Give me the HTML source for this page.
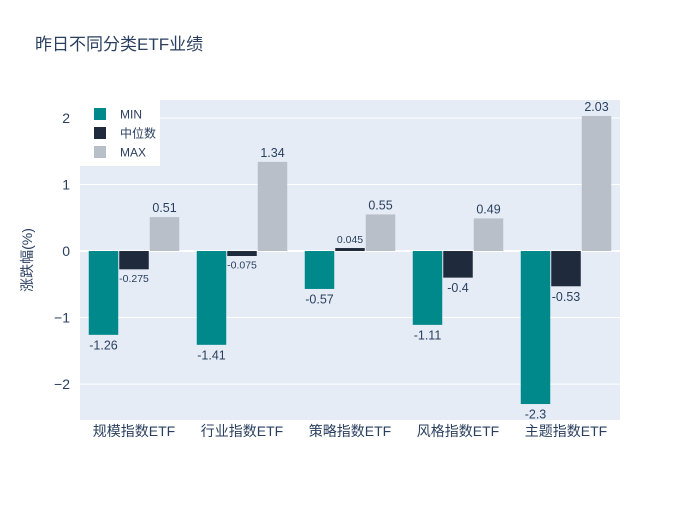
<!DOCTYPE html>
<html><head><meta charset="utf-8"><style>
body{margin:0;background:#fff;}
svg{font-family:"Liberation Sans","Noto Sans CJK SC",sans-serif;}
</style></head><body>
<svg id="chart" width="700" height="500">
<rect width="700" height="500" fill="#fff"/>
<text x="35" y="50" font-size="17" fill="#2a3f5f">昨日不同分类ETF业绩</text>
<rect x="80" y="100" width="540" height="320" fill="#e5ecf6"/>
<g id="grid"></g><g id="bars"></g><g id="labels"></g>
<text transform="translate(32,260) rotate(-90)" text-anchor="middle" font-size="14" fill="#2a3f5f">涨跌幅(%)</text>
<g id="legend"></g>
</svg>
<script>
const categories=["规模指数ETF","行业指数ETF","策略指数ETF","风格指数ETF","主题指数ETF"];
const seriesNames=["MIN","中位数","MAX"];
const minVals=[-1.26,-1.41,-0.57,-1.11,-2.3];
const medVals=[-0.275,-0.075,0.045,-0.4,-0.53];
const maxVals=[0.51,1.34,0.55,0.49,2.03];
const yTicks=[-2,-1,0,1,2];
const colors=["#00898a","#1f2a3c","#b8bfc8"];
const NS="http://www.w3.org/2000/svg";
const X0=80,W=540,Y0=100,H=320,yMin=-2.54,yMax=2.27;
const y=v=>Y0+(yMax-v)/(yMax-yMin)*H;
const band=W/categories.length;
const bw=30.5;
function mk(tag,attrs,parent,text){const e=document.createElementNS(NS,tag);for(const k in attrs)e.setAttribute(k,attrs[k]);if(text!==undefined)e.textContent=text;document.getElementById(parent)?document.getElementById(parent).appendChild(e):parent.appendChild(e);return e;}
yTicks.forEach(t=>{
 const l=mk('line',{x1:X0,x2:X0+W,y1:y(t),y2:y(t),stroke:'#fff','stroke-width':t===0?2:1},'grid');
 
 
 const tx=mk('text',{x:X0-10,y:y(t)+5,'text-anchor':'end','font-size':14,fill:'#2a3f5f'},'grid',t<0?'−'+Math.abs(t):String(t));
 
 
});
const all=[minVals,medVals,maxVals];
categories.forEach((c,i)=>{
 const cx=X0+band*(i+0.5);
 const tx=mk('text',{x:cx,y:y(yMin)+16,'text-anchor':'middle','font-size':14,fill:'#2a3f5f'},'grid',c);
 
 
 all.forEach((s,j)=>{
  const v=s[i];const bx=cx-1.5*bw+j*bw;
  const top=Math.min(y(v),y(0)),h=Math.abs(y(v)-y(0));
  const r=mk('rect',{x:bx+0.5,y:top,width:bw-1,height:h,fill:colors[j]},'bars');
  
  
  const small=Math.abs(v)<0.3&&j===1;
  const fs=small?10.5:12.5;
  const ly=v>=0?y(v)-5:y(v)+fs+2;
  const lt=mk('text',{x:bx+bw/2,y:ly,'text-anchor':'middle','font-size':fs,fill:'#2a3f5f'},'labels',String(v));
  
  
 });
});
const lb=mk('rect',{x:80,y:100,width:80,height:66,fill:'#fff'},'legend');


seriesNames.forEach((n,j)=>{
 const ly=114+j*19;
 const sw=mk('rect',{x:94,y:ly-6,width:12,height:12,fill:colors[j]},'legend');
 
 
 const t=mk('text',{x:120,y:ly+4.5,'font-size':12,fill:'#2a3f5f'},'legend',n);
 
 
});
</script>
</body></html>
